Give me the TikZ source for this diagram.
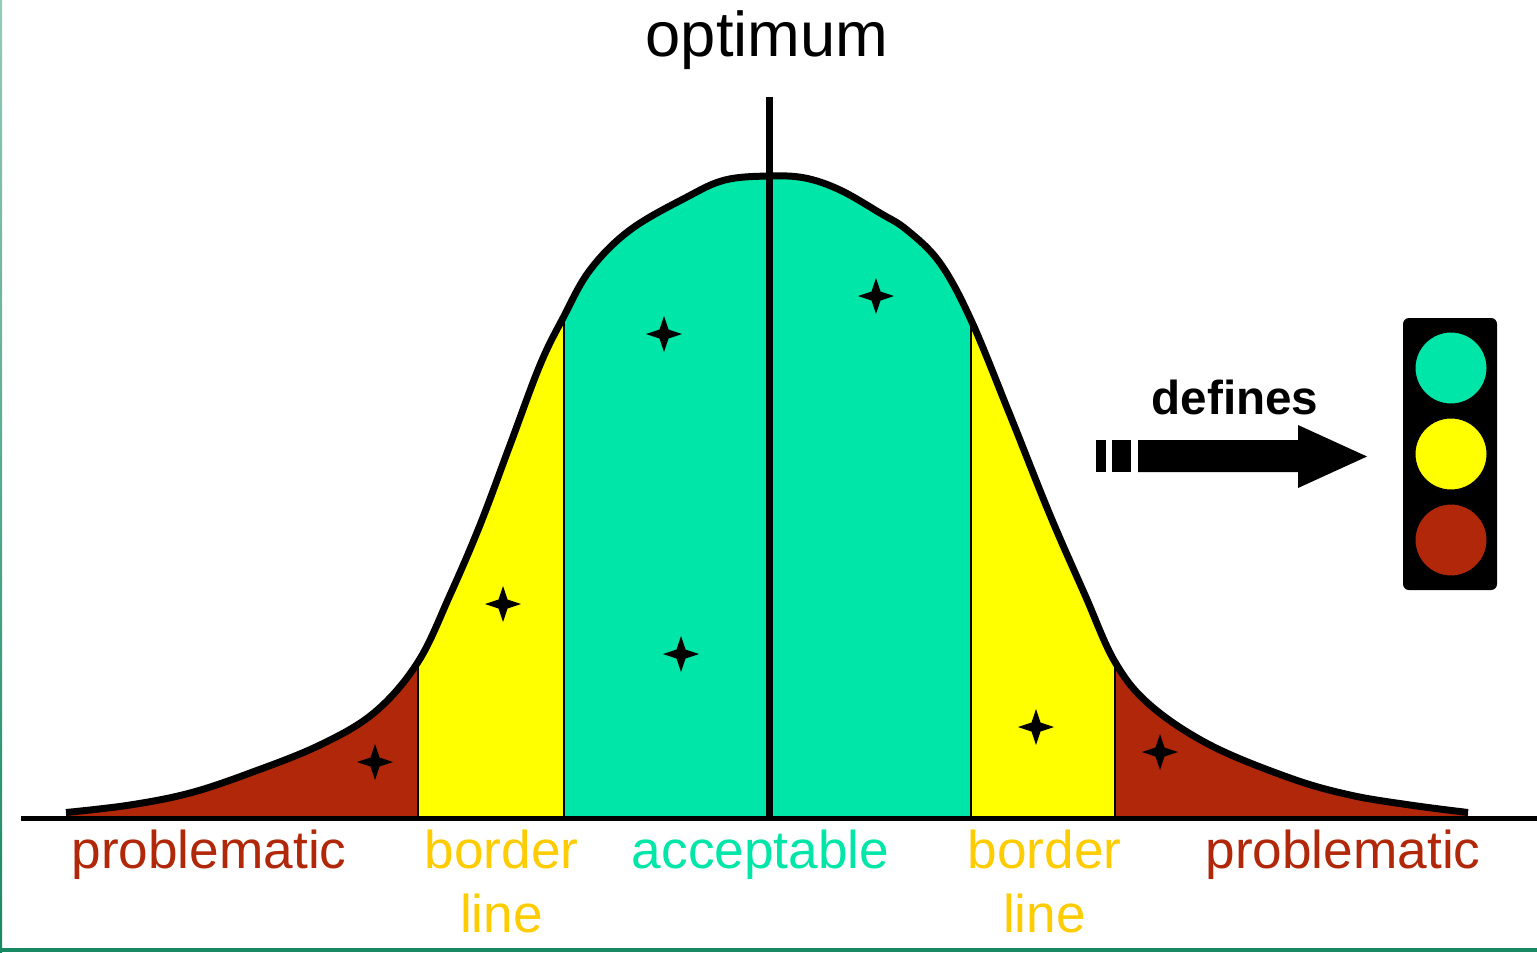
\documentclass[tikz,border=0pt]{standalone}
\usepackage{fontspec}
\setmainfont{Liberation Sans}
\definecolor{cgreen}{HTML}{00E6A8}
\definecolor{cyellow}{HTML}{FFFF00}
\definecolor{cred}{HTML}{B02809}
\definecolor{ctext}{HTML}{FFCC00}
\definecolor{cedge}{HTML}{178A63}
\newcommand{\bellpts}{(66,812.5) (130,805) (190,793) (250,773) (320,745) (375,712) (418,662) (450,595) (480,525) (510,445) (540,365) (563,318) (590,270) (630,230) (687,197) (725,180) (769,176) (805,178) (840,190) (880,213) (907,230) (940,263) (971,320) (1010,415) (1050,515) (1085,595) (1115,662) (1150,705) (1210,745) (1290,778) (1350,795) (1410,805) (1468,812.5)}
\newcommand{\fourstar}[1]{\fill[black] ($#1+(0,-18)$) -- ($#1+(4.5,-4.5)$) -- ($#1+(18,0)$) -- ($#1+(4.5,4.5)$) -- ($#1+(0,18)$) -- ($#1+(-4.5,4.5)$) -- ($#1+(-18,0)$) -- ($#1+(-4.5,-4.5)$) -- cycle;}
\usetikzlibrary{calc}
\tikzset{
  lab/.style={anchor=base,inner sep=0pt,font=\fontsize{53.4}{60}\selectfont},
  lamp/.style={circle,draw=black,line width=1pt,minimum size=72bp,inner sep=0pt},
  divider/.style={black,line width=2pt},
}
\begin{document}
\begin{tikzpicture}[x=1bp,y=-1bp]
\useasboundingbox (0,0) rectangle (1537,952);
\fill[white] (0,0) rectangle (1537,952);
\shade[top color=cedge!45,bottom color=cedge] (0,0) rectangle (2,952);
\fill[cedge] (0,948) rectangle (1537,952);
% filled zones, clipped to the bell
\begin{scope}
  \clip plot[smooth,tension=0.6] coordinates {\bellpts} -- (1468,818) -- (66,818) -- cycle;
  \fill[cred] (0,500) rectangle (418,820);
  \fill[cyellow] (418,200) rectangle (564,820);
  \fill[cgreen] (564,100) rectangle (971,820);
  \fill[cyellow] (971,200) rectangle (1115,820);
  \fill[cred] (1115,500) rectangle (1537,820);
  \draw[divider] (418,640) -- (418,818);
  \draw[divider] (564,300) -- (564,818);
  \draw[divider] (971,300) -- (971,818);
  \draw[divider] (1115,640) -- (1115,818);
\end{scope}
\draw[black,line width=7pt] plot[smooth,tension=0.6] coordinates {\bellpts};
\coordinate (axisL) at (21,818.5);
\coordinate (axisR) at (1537,818.5);
\draw[black,line width=5.5pt] (axisL) -- (axisR);
\coordinate (optTop) at (769.5,97);
\coordinate (optBot) at (769.5,818);
\draw[black,line width=7.5pt] (optTop) -- (optBot);
% stars
\fourstar{(664,334)}
\fourstar{(876,296)}
\fourstar{(503,604)}
\fourstar{(681,654)}
\fourstar{(375,762)}
\fourstar{(1036,727)}
\fourstar{(1160,752)}
% labels
\node[lab,text=black,font=\fontsize{63.5}{70}\selectfont] (optimum) at (767,56) {optimum};
\node[lab,text=cred] (p1) at (209,868) {problematic};
\node[lab,text=ctext] (b1) at (501.5,868) {border};
\node[lab,text=ctext] (l1) at (501.5,932) {line};
\node[lab,text=cgreen] (acc) at (760.5,868) {acceptable};
\node[lab,text=ctext] (b2) at (1044.5,868) {border};
\node[lab,text=ctext] (l2) at (1044.5,932) {line};
\node[lab,text=cred] (p2) at (1343,868) {problematic};
\node[lab,text=black,font=\bfseries\fontsize{47.8}{52}\selectfont] (defines) at (1235,414) {defines};
% block arrow
\fill[black] (1096,440) rectangle (1106,472);
\fill[black] (1112,440) rectangle (1131,472);
\fill[black] (1138,440) -- (1298,440) -- (1298,425) -- (1367,456.5) -- (1298,488) -- (1298,472) -- (1138,472) -- cycle;
% traffic light
\fill[black,rounded corners=6pt] (1403,318) rectangle (1497,590);
\node[lamp,fill=cgreen] (go) at (1451,368) {};
\node[lamp,fill=cyellow] (wait) at (1451,454) {};
\node[lamp,fill=cred] (stop) at (1451,540) {};
\end{tikzpicture}
\end{document}
